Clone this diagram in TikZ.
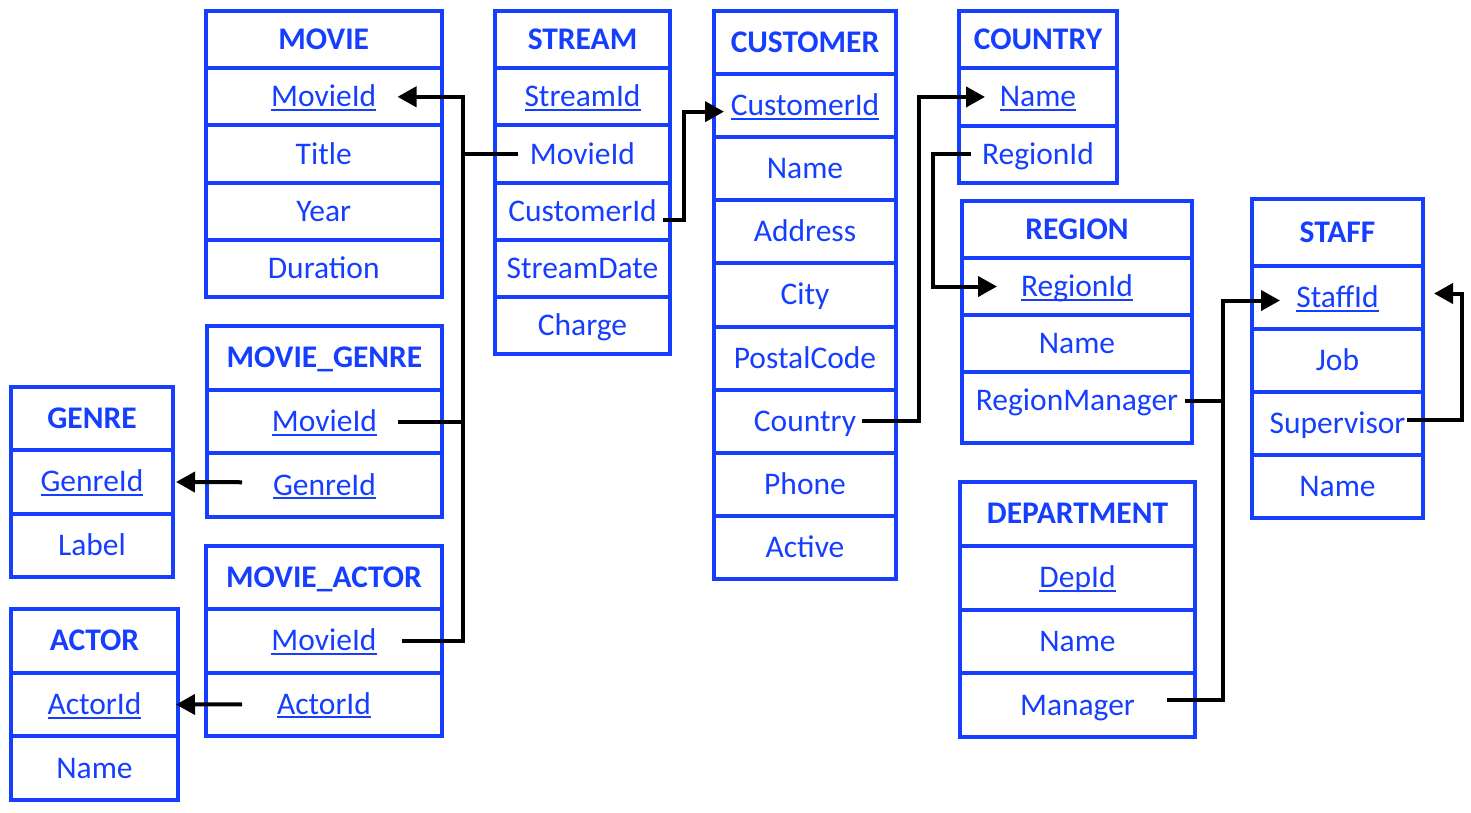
\documentclass[tikz,border=0pt]{standalone}
\usepackage{fontspec}
\setmainfont{Carlito}
\usepackage{xcolor}
\definecolor{tblblue}{RGB}{22,62,255}
\usepackage{tikz}
\usetikzlibrary{matrix}
\usetikzlibrary{arrows.meta}
\newlength\keywd
\newcommand\keyfld[1]{\settowidth\keywd{#1}\rlap{\rule[-4pt]{\keywd}{2pt}}#1}
\newcommand\tblfont{\fontsize{31.5}{38}\selectfont}
\tikzset{
  tbl/.style 2 args={matrix of nodes,anchor=north west,inner sep=0pt,outer sep=0pt,row sep=-4pt,
    xshift=-2pt,yshift=2pt,
    nodes={draw=tblblue,line width=4pt,text=tblblue,font=\tblfont,anchor=center,outer sep=0pt,inner sep=1pt,
      minimum width=#1,minimum height=#2,text height=20pt,text depth=0pt},
    row 1/.style={nodes={font=\tblfont\bfseries}}},
  fk/.style={draw=black,line width=4pt},
  fkarr/.style={fk,-{Triangle[length=19pt,width=20pt]}}
}

\begin{document}
\begin{tikzpicture}[x=1pt,y=-1pt]
\useasboundingbox (0,0) rectangle (1471,812);
\matrix (movie) [tbl={235.5pt}{57.2pt}] at (206,11)
{
MOVIE \\
\keyfld{MovieId} \\
Title \\
Year \\
Duration \\
};
\matrix (stream) [tbl={175pt}{57.2pt}] at (495,11)
{
STREAM \\
\keyfld{StreamId} \\
MovieId \\
CustomerId \\
StreamDate \\
Charge \\
};
\matrix (customer) [tbl={182pt}{63.1pt}] at (714,11)
{
CUSTOMER \\
\keyfld{CustomerId} \\
Name \\
Address \\
City \\
PostalCode \\
Country \\
Phone \\
Active \\
};
\matrix (country) [tbl={158pt}{57.3pt}] at (959,11)
{
COUNTRY \\
\keyfld{Name} \\
RegionId \\
};
\matrix (region) [tbl={230pt}{57pt}] at (962,201)
{
REGION \\
\keyfld{RegionId} \\
Name \\
|[minimum height=71pt,text depth=14pt]| RegionManager \\
};
\matrix (staff) [tbl={171pt}{63pt}] at (1252,199)
{
|[minimum height=67pt]| STAFF \\
\keyfld{StaffId} \\
Job \\
Supervisor \\
Name \\
};
\matrix (dept) [tbl={235pt}{63.75pt}] at (960,482)
{
DEPARTMENT \\
\keyfld{DepId} \\
Name \\
Manager \\
};
\matrix (moviegenre) [tbl={235pt}{63.7pt}] at (207,326)
{
MOVIE\_GENRE \\
\keyfld{MovieId} \\
\keyfld{GenreId} \\
};
\matrix (genre) [tbl={162pt}{63.3pt}] at (11,387)
{
GENRE \\
\keyfld{GenreId} \\
Label \\
};
\matrix (movieactor) [tbl={236pt}{63.3pt}] at (206,546)
{
MOVIE\_ACTOR \\
\keyfld{MovieId} \\
\keyfld{ActorId} \\
};
\matrix (actor) [tbl={167pt}{63.7pt}] at (11,609)
{
ACTOR \\
\keyfld{ActorId} \\
Name \\
};
\draw[fkarr] ([xshift=-40pt]movieactor-2-1.east) -| ([xshift=21pt]movie-2-1.east) -- ([xshift=-44pt]movie-2-1.east);
\draw[fk] ([xshift=-44pt]moviegenre-2-1.east) -| ([xshift=21pt]movie-2-1.east);
\draw[fk] ([xshift=23pt]stream-3-1.west) -| ([xshift=21pt]movie-2-1.east);
\draw[fkarr] ([xshift=-7pt,yshift=-9pt]stream-4-1.east) -| ([xshift=-30pt,yshift=-6pt]customer-2-1.west) -- ([xshift=10pt,yshift=-6pt]customer-2-1.west);
\draw[fkarr] ([xshift=-34pt]customer-7-1.east) -| ([xshift=-40pt]country-2-1.west) -- ([xshift=26pt]country-2-1.west);
\draw[fkarr] ([xshift=12pt]country-3-1.west) -| ([xshift=-29pt]region-2-1.west) -- ([xshift=35pt]region-2-1.west);
\draw[fkarr] ([xshift=-28pt,yshift=5pt]dept-4-1.east) -| ([xshift=-29pt,yshift=-3pt]staff-2-1.west) -- ([xshift=28pt,yshift=-3pt]staff-2-1.west);
\draw[fk] ([xshift=-7pt,yshift=7pt]region-4-1.east) -| ([xshift=-29pt,yshift=-3pt]staff-2-1.west);
\draw[fkarr] ([xshift=-16pt,yshift=4pt]staff-4-1.east) -| ([xshift=39pt,yshift=4pt]staff-2-1.east) -- ([xshift=11pt,yshift=4pt]staff-2-1.east);
\draw[fkarr] ([xshift=35pt,yshift=3pt]moviegenre-3-1.west) -- ([xshift=3pt]genre-2-1.east);
\draw[fkarr] ([xshift=36pt]movieactor-3-1.west) -- ([xshift=-2pt]actor-2-1.east);
\end{tikzpicture}
\end{document}
